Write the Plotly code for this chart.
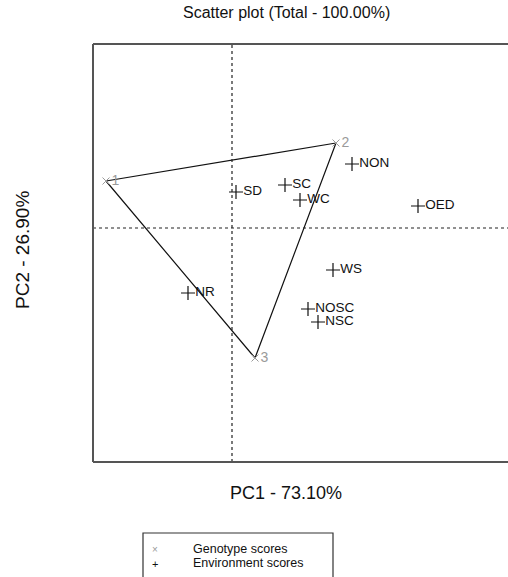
import plotly.graph_objects as go

# Genotype scores (PC1, PC2)
genotypes = ["1", "2", "3"]
gen_pc1 = [-1.26, 1.04, 0.23]
gen_pc2 = [0.47, 0.85, -1.30]

# Environment scores (PC1, PC2)
environments = ["SD", "SC", "WC", "NON", "OED", "WS", "NR", "NOSC", "NSC"]
env_pc1 = [0.04, 0.53, 0.68, 1.20, 1.86, 1.01, -0.44, 0.76, 0.86]
env_pc2 = [0.36, 0.43, 0.28, 0.64, 0.22, -0.42, -0.65, -0.81, -0.94]

title_text = "Scatter plot (Total - 100.00%)"
x_title = "PC1 - 73.10%"
y_title = "PC2 - 26.90%"
legend_labels = ["Genotype scores", "Environment scores"]

FONT = "Liberation Sans, Arial, sans-serif"
GREY = "#9a9a9a"
INK = "#111111"

fig = go.Figure()

# Polygon joining the genotype vertices
fig.add_trace(go.Scatter(
    x=gen_pc1 + [gen_pc1[0]], y=gen_pc2 + [gen_pc2[0]],
    mode="lines", line=dict(color=INK, width=1.2),
    hoverinfo="skip", showlegend=False,
))

# Genotypes
fig.add_trace(go.Scatter(
    x=gen_pc1, y=gen_pc2, mode="markers+text",
    marker=dict(symbol="x-thin-open", size=7, color=GREY,
                line=dict(color=GREY, width=1)),
    text=genotypes, textposition="middle right",
    textfont=dict(family=FONT, size=14, color=GREY),
    showlegend=False,
))

# Environments
fig.add_trace(go.Scatter(
    x=env_pc1, y=env_pc2, mode="markers+text",
    marker=dict(symbol="cross-thin-open", size=10, color=INK,
                line=dict(color=INK, width=1.2)),
    text=environments, textposition="middle right",
    textfont=dict(family=FONT, size=13.5, color=INK),
    showlegend=False,
))

L, R, T, B = 93, 0, 44, 115
W, H = 508, 577
pw, ph = W - L - R, H - T - B

def px(xp):
    return (xp - L) / pw

def py(yp):
    return (H - B - yp) / ph

shapes = [
    # origin reference lines
    dict(type="line", xref="x", yref="paper", x0=0, x1=0, y0=0, y1=1,
         line=dict(color="#222222", width=1.2, dash="dot")),
    dict(type="line", xref="paper", yref="y", x0=0, x1=1, y0=0, y1=0,
         line=dict(color="#222222", width=1.2, dash="dot")),
    # plot frame (left, top, bottom)
    dict(type="line", xref="paper", yref="paper", x0=0, x1=0, y0=0, y1=1,
         line=dict(color="#555555", width=2)),
    dict(type="line", xref="paper", yref="paper", x0=0, x1=1, y0=1, y1=1,
         line=dict(color="#555555", width=2)),
    dict(type="line", xref="paper", yref="paper", x0=0, x1=1, y0=0, y1=0,
         line=dict(color="#555555", width=2)),
    # legend box
    dict(type="rect", xref="paper", yref="paper", x0=px(143), x1=px(333),
         y0=py(600), y1=py(533), line=dict(color="#333333", width=1.2),
         fillcolor="rgba(0,0,0,0)"),
]

annotations = [
    dict(text=title_text, x=px(286), y=py(13), xref="paper", yref="paper",
         showarrow=False, xanchor="center", yanchor="middle",
         font=dict(family=FONT, size=16, color=INK)),
    dict(text=x_title, x=px(286), y=py(493), xref="paper", yref="paper",
         showarrow=False, xanchor="center", yanchor="middle",
         font=dict(family=FONT, size=18, color=INK)),
    dict(text=y_title, x=px(22), y=py(250), xref="paper", yref="paper",
         showarrow=False, xanchor="center", yanchor="middle", textangle=-90,
         font=dict(family=FONT, size=19, color=INK)),
    dict(text="\u00d7", x=px(155), y=py(549), xref="paper", yref="paper",
         showarrow=False, xanchor="center", yanchor="middle",
         font=dict(family=FONT, size=10, color=GREY)),
    dict(text="+", x=px(155), y=py(564), xref="paper", yref="paper",
         showarrow=False, xanchor="center", yanchor="middle",
         font=dict(family=FONT, size=11, color=INK)),
    dict(text=legend_labels[0], x=px(191), y=py(549), xref="paper", yref="paper",
         showarrow=False, xanchor="left", yanchor="middle",
         font=dict(family=FONT, size=12.5, color=INK)),
    dict(text=legend_labels[1], x=px(191), y=py(563), xref="paper", yref="paper",
         showarrow=False, xanchor="left", yanchor="middle",
         font=dict(family=FONT, size=12.5, color=INK)),
]

axis_common = dict(showgrid=False, zeroline=False, showline=False,
                   showticklabels=False, ticks="")
fig.update_layout(
    width=W, height=H,
    margin=dict(l=L, r=R, t=T, b=B, pad=0),
    paper_bgcolor="white", plot_bgcolor="white",
    xaxis=dict(range=[(L - 232) / 100, (W - R - 232) / 100], **axis_common),
    yaxis=dict(range=[(228 - (H - B)) / 100, (228 - T) / 100], **axis_common),
    shapes=shapes, annotations=annotations, showlegend=False,
)

fig.write_html("out.html")
